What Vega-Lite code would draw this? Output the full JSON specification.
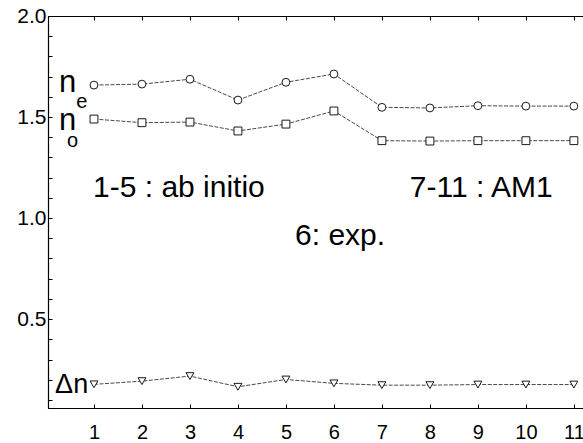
{
  "$schema": "https://vega.github.io/schema/vega-lite/v6.json",
  "autosize": "none",
  "width": 535,
  "height": 392,
  "padding": {"left": 48, "top": 16, "right": 0, "bottom": 35},
  "background": "white",
  "config": {
    "view": {"stroke": "black", "strokeWidth": 1},
    "font": "Liberation Sans",
    "axis": {"grid": false, "domainColor": "black", "tickColor": "black", "labelColor": "black", "labelFont": "Liberation Sans"}
  },
  "data": {"values": [
    {"x": 1, "series": "ne", "value": 1.658},
    {"x": 2, "series": "ne", "value": 1.663},
    {"x": 3, "series": "ne", "value": 1.687},
    {"x": 4, "series": "ne", "value": 1.584},
    {"x": 5, "series": "ne", "value": 1.672},
    {"x": 6, "series": "ne", "value": 1.713},
    {"x": 7, "series": "ne", "value": 1.548},
    {"x": 8, "series": "ne", "value": 1.545},
    {"x": 9, "series": "ne", "value": 1.556},
    {"x": 10, "series": "ne", "value": 1.554},
    {"x": 11, "series": "ne", "value": 1.554},
    {"x": 1, "series": "no", "value": 1.490},
    {"x": 2, "series": "no", "value": 1.472},
    {"x": 3, "series": "no", "value": 1.475},
    {"x": 4, "series": "no", "value": 1.431},
    {"x": 5, "series": "no", "value": 1.465},
    {"x": 6, "series": "no", "value": 1.530},
    {"x": 7, "series": "no", "value": 1.383},
    {"x": 8, "series": "no", "value": 1.381},
    {"x": 9, "series": "no", "value": 1.383},
    {"x": 10, "series": "no", "value": 1.383},
    {"x": 11, "series": "no", "value": 1.383},
    {"x": 1, "series": "dn", "value": 0.177},
    {"x": 2, "series": "dn", "value": 0.193},
    {"x": 3, "series": "dn", "value": 0.218},
    {"x": 4, "series": "dn", "value": 0.165},
    {"x": 5, "series": "dn", "value": 0.201},
    {"x": 6, "series": "dn", "value": 0.182},
    {"x": 7, "series": "dn", "value": 0.173},
    {"x": 8, "series": "dn", "value": 0.173},
    {"x": 9, "series": "dn", "value": 0.176},
    {"x": 10, "series": "dn", "value": 0.176},
    {"x": 11, "series": "dn", "value": 0.176}
  ]},
  "resolve": {"axis": {"x": "independent", "y": "independent"}},
  "layer": [
    {
      "mark": {"type": "line", "stroke": "#333333", "strokeWidth": 0.9, "strokeDash": [4, 1.5]},
      "encoding": {
        "x": {"field": "x", "type": "quantitative", "scale": {"domain": [0.042, 11.19], "nice": false, "zero": false},
              "axis": {"orient": "bottom", "values": [1,2,3,4,5,6,7,8,9,10,11], "title": null, "tickSize": -4, "labelPadding": 18, "labelFontSize": 20, "labelFlush": false, "labelOverlap": false, "labelColor": "black", "domainColor": "black", "tickColor": "black", "domainWidth": 1.2}},
        "y": {"field": "value", "type": "quantitative", "scale": {"domain": [0.06, 2.0], "nice": false, "zero": false},
              "axis": {"values": [0.1,0.2,0.3,0.4,0.5,0.6,0.7,0.8,0.9,1.0,1.1,1.2,1.3,1.4,1.5,1.6,1.7,1.8,1.9,2.0], "title": null, "tickSize": -4, "labelPadding": 6, "labelFontSize": 21, "labelOverlap": false, "labelFlush": false, "labelBaseline": "middle", "labelColor": "black", "domainColor": "black", "tickColor": "black", "domainWidth": 1.2,
                       "labelExpr": "abs(datum.value*2 - round(datum.value*2)) < 0.001 ? format(datum.value, '.1f') : ''"}},
        "detail": {"field": "series"}
      }
    },
    {
      "mark": {"type": "point", "filled": false, "stroke": "black", "strokeWidth": 0.9, "size": 62, "fill": "white", "fillOpacity": 1},
      "encoding": {
        "x": {"field": "x", "type": "quantitative", "axis": {"orient": "top", "values": [1,2,3,4,5,6,7,8,9,10,11], "labels": false, "title": null, "tickSize": -4, "domainColor": "black", "tickColor": "black"}},
        "y": {"field": "value", "type": "quantitative", "axis": null},
        "shape": {"field": "series", "type": "nominal", "scale": {"domain": ["ne", "no", "dn"], "range": ["circle", "square", "triangle-down"]}, "legend": null}
      }
    },
    {
      "data": {"values": [{}]},
      "mark": {"type": "text", "text": "n", "fontSize": 31, "align": "left", "baseline": "alphabetic", "color": "black"},
      "encoding": {"x": {"datum": 0.27, "type": "quantitative", "axis": null}, "y": {"datum": 1.624, "type": "quantitative", "axis": null}}
    },
    {
      "data": {"values": [{}]},
      "mark": {"type": "text", "text": "e", "fontSize": 20, "align": "left", "baseline": "alphabetic", "color": "black"},
      "encoding": {"x": {"datum": 0.63, "type": "quantitative", "axis": null}, "y": {"datum": 1.545, "type": "quantitative", "axis": null}}
    },
    {
      "data": {"values": [{}]},
      "mark": {"type": "text", "text": "n", "fontSize": 31, "align": "left", "baseline": "alphabetic", "color": "black"},
      "encoding": {"x": {"datum": 0.27, "type": "quantitative", "axis": null}, "y": {"datum": 1.436, "type": "quantitative", "axis": null}}
    },
    {
      "data": {"values": [{}]},
      "mark": {"type": "text", "text": "o", "fontSize": 20, "align": "left", "baseline": "alphabetic", "color": "black"},
      "encoding": {"x": {"datum": 0.44, "type": "quantitative", "axis": null}, "y": {"datum": 1.351, "type": "quantitative", "axis": null}}
    },
    {
      "data": {"values": [{}]},
      "mark": {"type": "text", "text": "Δn", "fontSize": 27, "align": "left", "baseline": "alphabetic", "color": "black"},
      "encoding": {"x": {"datum": 0.19, "type": "quantitative", "axis": null}, "y": {"datum": 0.134, "type": "quantitative", "axis": null}}
    },
    {
      "data": {"values": [{}]},
      "mark": {"type": "text", "text": "1-5 : ab initio", "fontSize": 30, "align": "left", "baseline": "alphabetic", "color": "black"},
      "encoding": {"x": {"datum": 0.98, "type": "quantitative", "axis": null}, "y": {"datum": 1.104, "type": "quantitative", "axis": null}}
    },
    {
      "data": {"values": [{}]},
      "mark": {"type": "text", "text": "7-11 : AM1", "fontSize": 30, "align": "left", "baseline": "alphabetic", "color": "black"},
      "encoding": {"x": {"datum": 7.58, "type": "quantitative", "axis": null}, "y": {"datum": 1.104, "type": "quantitative", "axis": null}}
    },
    {
      "data": {"values": [{}]},
      "mark": {"type": "text", "text": "6: exp.", "fontSize": 30, "align": "left", "baseline": "alphabetic", "color": "black"},
      "encoding": {"x": {"datum": 5.19, "type": "quantitative", "axis": null}, "y": {"datum": 0.866, "type": "quantitative", "axis": null}}
    }
  ]
}
